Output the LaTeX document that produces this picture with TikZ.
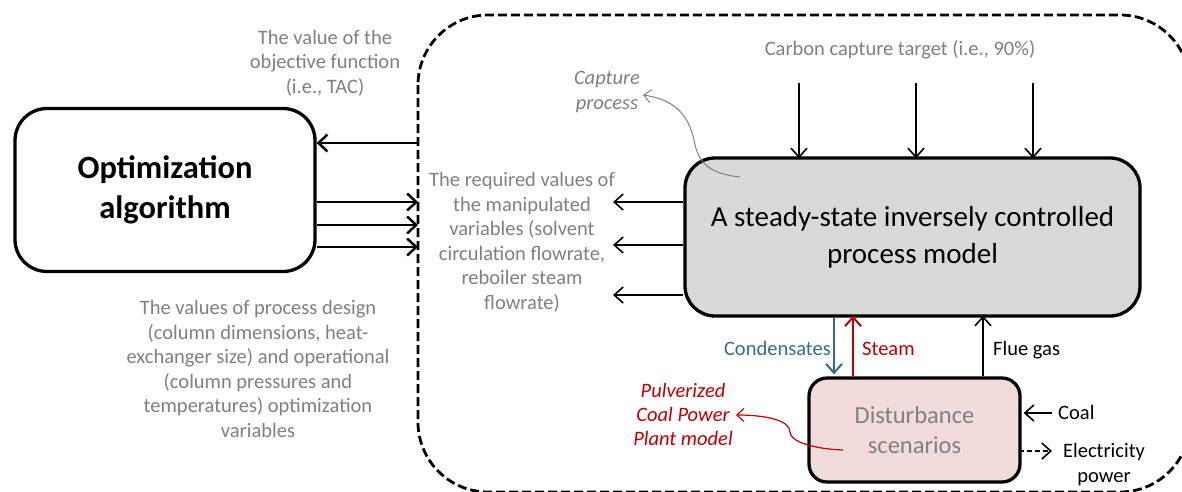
\documentclass[tikz,border=0pt]{standalone}
\usepackage{fontspec}
\setmainfont{Carlito}
\usetikzlibrary{arrows.meta}
\definecolor{txtgray}{RGB}{128,128,128}
\definecolor{boxgray}{RGB}{217,217,217}
\definecolor{boxpink}{RGB}{242,220,219}
\definecolor{darkred}{RGB}{192,0,0}
\definecolor{tealc}{RGB}{49,110,130}
\begin{document}
\begin{tikzpicture}[x=1pt,y=-1pt,
  mainbox/.style={draw=black, line width=3.3pt, align=center, inner sep=0pt},
  graytxt/.style={text=txtgray, align=center, inner sep=0pt, font=\fontsize{20.5}{24.5}\selectfont},
  lbl/.style={inner sep=0pt, font=\fontsize{20.5}{24.5}\selectfont},
  arrL/.style={line width=2.5pt, -{Straight Barb[length=9pt,width=17pt]}},
  arrM/.style={line width=1.6pt, -{Straight Barb[length=9pt,width=16pt]}},
  thincurve/.style={line width=1pt, -{Straight Barb[length=7pt,width=13pt]}},
  boundary/.style={line width=2.8pt, dash pattern=on 9pt off 4pt, rounded corners=70pt}
]
\useasboundingbox (0,0) rectangle (1182,491);

% dashed boundary of the capture process
\draw[boundary] (418,15) rectangle (1190,492);

% boxes
\node[mainbox, minimum width=300pt, minimum height=163pt, rounded corners=32pt,
      font=\fontsize{32.5}{40}\bfseries] (opt) at (165,190) {Optimization\\algorithm};
\node[mainbox, fill=boxgray, minimum width=455pt, minimum height=158pt, rounded corners=30pt,
      font=\fontsize{29}{37}\selectfont] (model) at (912.5,237) {A steady-state inversely controlled\\process model};
\node[mainbox, fill=boxpink, text=txtgray, minimum width=211pt, minimum height=104pt, rounded corners=18pt,
      font=\fontsize{24.5}{30}\selectfont] (dist) at (914.5,430) {Disturbance\\scenarios};

% texts
\node[graytxt] (lobj) at (325,63) {The value of the\\objective function\\(i.e., TAC)};
\node[graytxt] (lvals) at (258,369) {The values of process design\\(column dimensions, heat-\\exchanger size) and operational\\(column pressures and\\temperatures) optimization\\variables};
\node[graytxt] (lreq) at (522,242.5) {The required values of\\the manipulated\\variables (solvent\\circulation flowrate,\\reboiler steam\\flowrate)};
\node[graytxt] (lcarb) at (900,50) {Carbon capture target (i.e., 90\%)};
\node[graytxt, font=\fontsize{20.5}{24.5}\itshape] (lcap) at (607,92) {Capture\\process};
\node[lbl, text=darkred, align=center, font=\fontsize{20.5}{24}\itshape] (lpc) at (683,414) {Pulverized\\Coal Power\\Plant model};

\node[lbl, text=tealc, anchor=base east] (lcond) at (831,355.5) {Condensates};
\node[lbl, text=darkred, anchor=base west] (lsteam) at (862,355.5) {Steam};
\node[lbl, anchor=base west] (lflue) at (993,355.5) {Flue gas};
\node[lbl, anchor=base west] (lcoal) at (1058,419.5) {Coal};
\node[lbl, align=center] (lelec) at (1104,464.5) {Electricity\\power};

% boundary points
\coordinate (b0) at (418,143);
\coordinate (b1) at (418,202);
\coordinate (b2) at (418,225);
\coordinate (b3) at (418,247);
% objective back to optimizer
\draw[arrL] (b0) -- (b0 -| opt.east);
\draw[arrL] (b1 -| opt.east) -- (b1);
\draw[arrL] (b2 -| opt.east) -- (b2);
\draw[arrL] (b3 -| opt.east) -- (b3);

% manipulated variables out of the model
\coordinate (m1) at (613,202);
\coordinate (m2) at (613,245);
\coordinate (m3) at (613,295);
\draw[arrM] (m1 -| model.west) -- (m1);
\draw[arrM] (m2 -| model.west) -- (m2);
\draw[arrM] (m3 -| model.west) -- (m3);

% carbon capture target
\coordinate (t1) at (799,83);
\coordinate (t2) at (916,83);
\coordinate (t3) at (1033,83);
\draw[arrM] (t1) -- ([yshift=-2pt]t1 |- model.north);
\draw[arrM] (t2) -- ([yshift=-2pt]t2 |- model.north);
\draw[arrM] (t3) -- ([yshift=-2pt]t3 |- model.north);

% streams between model and power plant
\coordinate (sc) at (834,0);
\coordinate (ss) at (853,0);
\coordinate (sf) at (983,0);
\draw[arrM, draw=tealc, line width=2pt] (sc |- model.south) -- ([yshift=2pt]sc |- dist.north);
\draw[arrM, draw=darkred, line width=2pt] (ss |- dist.north) -- ([yshift=2pt]ss |- model.south);
\draw[arrM] (sf |- dist.north) -- ([yshift=2pt]sf |- model.south);

% coal and electricity
\coordinate (c1) at (1052,413);
\coordinate (e1) at (1052,451);
\draw[arrM] (c1) -- ([xshift=2pt]c1 -| dist.east);
\draw[arrM, dash pattern=on 5pt off 3pt] ([xshift=-3pt]e1 -| dist.east) -- (e1);

% annotation curves
\coordinate (capS) at (740,177);
\coordinate (capT) at (643,95);
\draw[thincurve, draw=txtgray] (capS) .. controls (712,174) and (700,165) .. (695,145)
      .. controls (690,118) and (678,100) .. (capT);
\coordinate (pcS) at (843,450);
\coordinate (pcT) at (736,415);
\draw[thincurve, draw=darkred, line width=1.2pt] (pcS) .. controls (815,449) and (790,442) .. (790,432)
      .. controls (790,420) and (765,415) .. (pcT);
\end{tikzpicture}
\end{document}
